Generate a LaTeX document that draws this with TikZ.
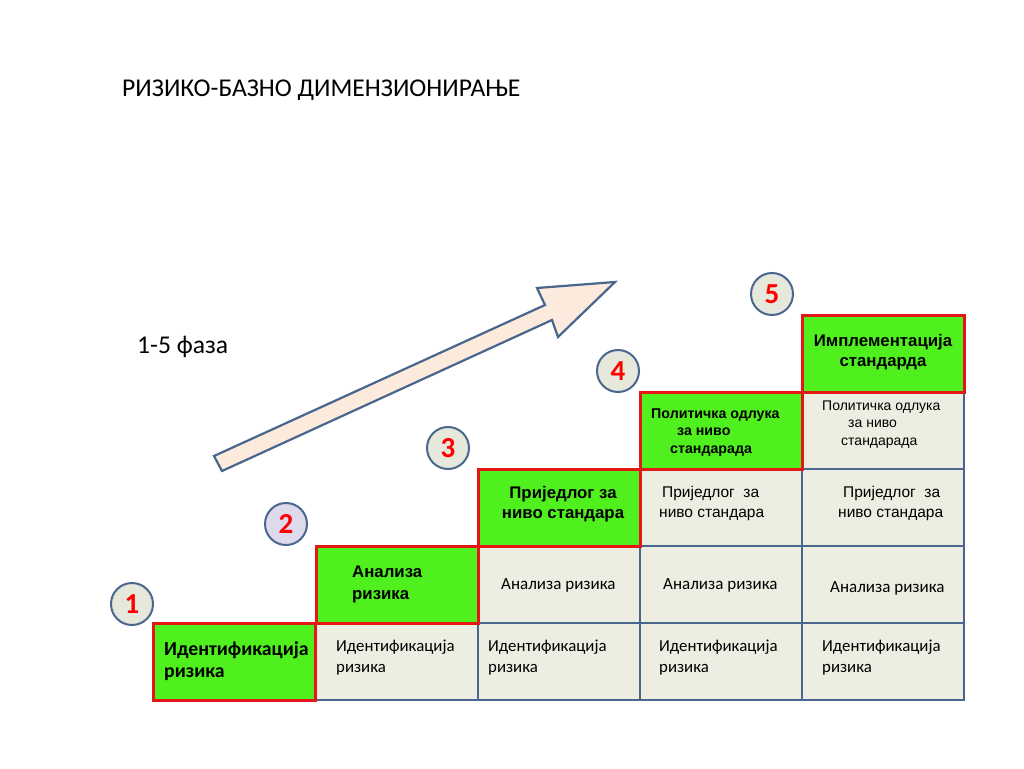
\documentclass[tikz,border=0pt]{standalone}
\usepackage{fontspec}
\setmainfont{Carlito}
\newfontfamily\arialf{Liberation Sans}
\definecolor{cgreen}{RGB}{80,240,30}
\definecolor{cred}{RGB}{228,22,22}
\definecolor{cgrey}{RGB}{237,237,225}
\definecolor{cblue}{RGB}{72,102,142}
\definecolor{circfill}{RGB}{230,232,220}
\definecolor{circfilltwo}{RGB}{222,218,236}
\definecolor{arrfill}{RGB}{252,234,220}
\begin{document}
\begin{tikzpicture}[x=1pt,y=-1pt,
  greycell/.style={draw=cblue, fill=cgrey, line width=2.5pt, minimum width=162pt, minimum height=77pt, inner sep=0pt},
  greencell/.style={draw=cred, fill=cgreen, line width=3pt, minimum width=162pt, minimum height=77pt, inner sep=0pt},
  phase/.style={circle, draw=cblue, line width=2pt, fill=circfill, minimum size=42pt, inner sep=0pt, text=red, font=\bfseries\fontsize{29}{30}\selectfont},
  calt/.style={inner sep=0pt, align=left, font=\fontsize{16.8}{21}\selectfont},
  calta/.style={inner sep=0pt, align=left, font=\fontsize{17}{21}\selectfont},
  arlt/.style={inner sep=0pt, align=left, font=\arialf\fontsize{15.5}{19.5}\selectfont},
  arltsm/.style={inner sep=0pt, align=left, font=\arialf\fontsize{14}{17.5}\selectfont},
  bcal/.style={inner sep=0pt, align=left, font=\bfseries\fontsize{19.8}{22}\selectfont},
  bar/.style={inner sep=0pt, align=left, font=\arialf\bfseries\fontsize{16.8}{22}\selectfont},
  barc/.style={inner sep=0pt, align=center, font=\arialf\bfseries\fontsize{16.8}{20}\selectfont},
  barsm/.style={inner sep=0pt, align=left, font=\arialf\bfseries\fontsize{14.2}{17.5}\selectfont},
  bigtxt/.style={inner sep=0pt, font=\fontsize{25.6}{28}\selectfont}
]
\useasboundingbox (0,0) rectangle (1024,768);
\fill[white] (0,0) rectangle (1024,768);

% title and phase label
\node[bigtxt, anchor=west] (title) at (122,90) {РИЗИКО-БАЗНО ДИМЕНЗИОНИРАЊЕ};
\node[bigtxt, anchor=west] (faza) at (137,347) {1-5 фаза};

% big arrow
\draw[draw=cblue, line width=2.2pt, fill=arrfill, line join=miter]
  (214,456) -- (545,305) -- (537,288) -- (615,282) -- (558,337) -- (552,320) -- (222,471) -- cycle;

% grey cells
\node[greycell] (g01) at (397,661.5) {};
\node[greycell] (g02) at (559,661.5) {};
\node[greycell] (g03) at (721,661.5) {};
\node[greycell] (g04) at (883,661.5) {};
\node[greycell] (g12) at (559,584.5) {};
\node[greycell] (g13) at (721,584.5) {};
\node[greycell] (g14) at (883,584.5) {};
\node[greycell] (g23) at (721,507.5) {};
\node[greycell] (g24) at (883,507.5) {};
\node[greycell] (g34) at (883,430.5) {};

% green cells
\node[greencell] (s1) at (234.5,661.5) {};
\node[greencell] (s2) at (397,584.5) {};
\node[greencell] (s3) at (559,507.5) {};
\node[greencell] (s4) at (721,430.5) {};
\node[greencell] (s5) at (883,353.5) {};

% green cell texts
\node[bcal, anchor=west] (t1) at (164,661) {Идентификација\\ризика};
\node[bar, anchor=west] (t2) at (352,584) {Анализа\\ризика};
\node[barc] (t3) at (563,504) {Приједлог за\\ниво стандара};
\node[barsm, anchor=west] (t4) at (651,432.5) {Политичка одлука\\\hspace*{26pt}за ниво\\\hspace*{19pt}стандарада};
\node[barc] (t5) at (883,352) {Имплементација\\стандарда};

% grey cell texts
\node[calt, anchor=west] (gt01) at (336,657.5) {Идентификација\\ризика};
\node[calt, anchor=west] (gt02) at (488,657.5) {Идентификација\\ризика};
\node[calt, anchor=west] (gt03) at (659,657.5) {Идентификација\\ризика};
\node[calt, anchor=west] (gt04) at (822,657.5) {Идентификација\\ризика};
\node[calta, anchor=west] (gt12) at (501,585) {Анализа ризика};
\node[calta, anchor=west] (gt13) at (663,585) {Анализа ризика};
\node[calta, anchor=west] (gt14) at (830,588) {Анализа ризика};
\node[arlt, anchor=west] (gt23) at (659,503.5) {\hspace*{3pt}Приједлог\ \ за\\ниво стандара};
\node[arlt, anchor=west] (gt24) at (838,503.5) {\hspace*{5pt}Приједлог\ \ за\\ниво стандара};
\node[arltsm, anchor=west] (gt34) at (822,424.5) {Политичка одлука\\\hspace*{26pt}за ниво\\\hspace*{19pt}стандарада};

% phase circles
\node[phase] (p1) at (132,604) {1};
\node[phase, fill=circfilltwo] (p2) at (286,524) {2};
\node[phase] (p3) at (448,448) {3};
\node[phase] (p4) at (618,371) {4};
\node[phase] (p5) at (772,294) {5};
\end{tikzpicture}
\end{document}
